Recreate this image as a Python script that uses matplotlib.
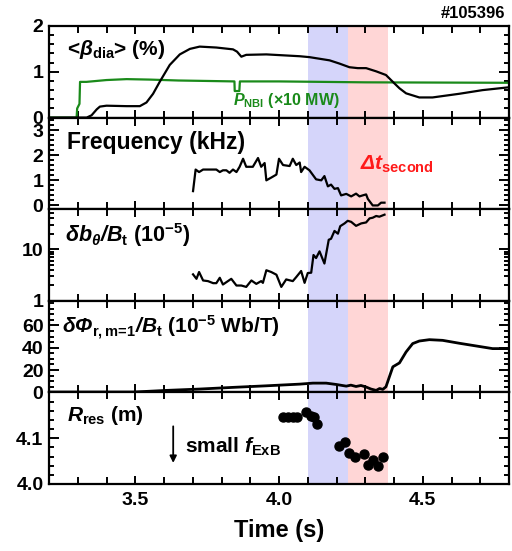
import matplotlib
matplotlib.use("Agg")
import matplotlib.pyplot as plt
from matplotlib.ticker import MultipleLocator, FixedLocator, NullFormatter, LogLocator

plt.rcParams['font.family'] = ['Liberation Sans', 'DejaVu Sans']
plt.rcParams['font.weight'] = 'bold'
plt.rcParams['mathtext.fontset'] = 'custom'
# 'rm' is italic so that capital Greek letters come out italic; upright parts use \mathsf
plt.rcParams['mathtext.rm'] = 'Liberation Sans:bold:italic'
plt.rcParams['mathtext.it'] = 'Liberation Sans:bold:italic'
plt.rcParams['mathtext.bf'] = 'Liberation Sans:bold'
plt.rcParams['mathtext.sf'] = 'Liberation Sans:bold'

# ---------------- data ----------------
beta_t = [3.20, 3.296, 3.331, 3.348, 3.366, 3.377, 3.400, 3.470, 3.516, 3.539, 3.562, 3.585,
          3.620, 3.655, 3.690, 3.724, 3.782, 3.840, 3.854, 3.869, 3.886, 3.956, 4.072, 4.106,
          4.176, 4.210, 4.245, 4.274, 4.303, 4.338, 4.372, 4.396, 4.419, 4.442, 4.488, 4.534,
          4.627, 4.708, 4.797]
beta_v = [0.0, 0.0, 0.0, 0.05, 0.18, 0.24, 0.26, 0.25, 0.25, 0.33, 0.52, 0.78,
          1.15, 1.38, 1.50, 1.55, 1.53, 1.49, 1.44, 1.33, 1.37, 1.38, 1.34, 1.32,
          1.25, 1.18, 1.10, 1.08, 1.08, 1.01, 0.93, 0.78, 0.64, 0.53, 0.44, 0.44,
          0.52, 0.60, 0.66]

pnbi_t = [3.20, 3.296, 3.298, 3.306, 3.308, 3.33, 3.40, 3.47, 3.55, 3.65, 3.75, 3.845,
          3.846, 3.862, 3.864, 4.00, 4.30, 4.80]
pnbi_v = [0.0, 0.0, 0.2, 0.3, 0.78, 0.78, 0.82, 0.84, 0.83, 0.81, 0.80, 0.79,
          0.58, 0.58, 0.79, 0.79, 0.77, 0.76]

freq_t = [3.701, 3.710, 3.722, 3.736, 3.782, 3.794, 3.805, 3.817, 3.828, 3.840, 3.852, 3.863,
          3.875, 3.886, 3.909, 3.927, 3.938, 3.950, 3.956, 3.973, 3.991, 4.000, 4.014, 4.037,
          4.048, 4.060, 4.072, 4.077, 4.089, 4.106, 4.129, 4.147, 4.158, 4.170, 4.181, 4.193,
          4.205, 4.216, 4.234, 4.251, 4.268, 4.280, 4.291, 4.303, 4.309, 4.326, 4.344, 4.355,
          4.367]
freq_v = [0.57, 1.43, 1.33, 1.43, 1.43, 1.33, 1.40, 1.40, 1.30, 1.43, 1.33, 1.54,
          1.86, 1.54, 1.54, 1.89, 1.54, 1.69, 1.00, 1.11, 1.23, 1.86, 1.61, 1.57,
          1.86, 1.61, 1.71, 1.33, 1.54, 1.40, 1.04, 1.00, 1.17, 0.76, 0.83, 0.66,
          0.69, 0.40, 0.46, 0.36, 0.47, 0.36, 0.40, 0.44, 0.26, 0.00, 0.00, 0.11,
          0.11]

db_t = [3.701, 3.713, 3.722, 3.736, 3.753, 3.771, 3.782, 3.794, 3.805, 3.834, 3.852, 3.869,
        3.886, 3.904, 3.921, 3.938, 3.944, 3.956, 3.973, 3.991, 4.008, 4.025, 4.048, 4.060,
        4.077, 4.089, 4.100, 4.112, 4.120, 4.129, 4.141, 4.158, 4.173, 4.181, 4.193, 4.205,
        4.213, 4.228, 4.239, 4.251, 4.268, 4.286, 4.303, 4.315, 4.326, 4.338, 4.349, 4.367]
db_v = [3.26, 2.67, 3.62, 2.48, 2.41, 2.20, 2.20, 2.80, 2.07, 2.67, 1.98, 1.98,
        1.86, 2.48, 2.13, 2.41, 2.23, 3.92, 3.62, 3.21, 1.86, 2.60, 2.41, 2.89,
        3.79, 2.23, 3.46, 3.51, 7.74, 6.76, 9.12, 5.29, 15.3, 16.0, 22.7, 20.1,
        28.1, 31.8, 35.7, 34.1, 28.5, 31.8, 33.2, 39.8, 41.0, 44.3, 42.9, 47.0]

phi_t = [3.20, 3.493, 3.609, 3.724, 3.840, 3.956, 4.072, 4.118, 4.164, 4.199, 4.234, 4.250,
         4.268, 4.285, 4.303, 4.320, 4.338, 4.350, 4.361, 4.372, 4.382, 4.396, 4.419, 4.442,
         4.465, 4.488, 4.523, 4.569, 4.627, 4.685, 4.743, 4.797]
phi_v = [0.3, 0.3, 1.8, 3.0, 4.5, 5.9, 7.4, 8.3, 8.3, 7.1, 5.6, 6.5,
         5.3, 6.2, 4.8, 3.0, 1.8, 3.5, 2.7, 5.0, 12.5, 22.9, 26.4, 36.2,
         43.7, 46.0, 47.2, 46.6, 44.0, 41.6, 39.2, 39.2]

rres_t = [4.014, 4.031, 4.048, 4.063, 4.095, 4.112, 4.121, 4.132, 4.210, 4.228, 4.243, 4.263,
          4.297, 4.309, 4.326, 4.344, 4.363]
rres_v = [4.147, 4.147, 4.147, 4.147, 4.158, 4.149, 4.146, 4.130, 4.084, 4.092, 4.068, 4.058,
          4.066, 4.042, 4.053, 4.040, 4.059]

blue_span = (4.10, 4.24)
red_span = (4.24, 4.38)
xticks = [3.5, 4.0, 4.5]
xticklabels = ['3.5', '4.0', '4.5']

# ---------------- figure ----------------
W, H = 512, 551
fig = plt.figure(figsize=(W / 100, H / 100), dpi=100)
left = 49 / W
width = 460 / W
top_px, bot_px = 26, 484
ph = (bot_px - top_px) / 5
axes = []
for i in range(5):
    b = 1 - (top_px + (i + 1) * ph) / H
    ax = fig.add_axes([left, b, width, ph / H])
    axes.append(ax)
for ax in axes[1:]:
    ax.sharex(axes[0])

BLUE = '#d5d5fa'
RED = '#ffd6d6'
tick_fs = 14
lab_fs = 15

for ax in axes:
    ax.axvspan(*blue_span, color=BLUE, lw=0, zorder=0)
    ax.axvspan(*red_span, color=RED, lw=0, zorder=0)
    for s in ax.spines.values():
        s.set_linewidth(1.6)
    ax.set_xlim(3.2, 4.8)
    ax.xaxis.set_major_locator(FixedLocator(xticks))
    ax.xaxis.set_minor_locator(MultipleLocator(0.1))
    ax.tick_params(axis='both', which='both', direction='in', top=True, right=True,
                   labelsize=tick_fs, width=1.4)
    ax.tick_params(axis='x', which='major', length=6)
    ax.tick_params(axis='x', which='minor', length=5)
    ax.tick_params(axis='y', which='major', length=7, pad=4)
    ax.tick_params(axis='y', which='minor', length=3.5)
    if ax is not axes[-1]:
        ax.tick_params(axis='x', labelbottom=False)

# Panel 1
ax = axes[0]
ax.plot(pnbi_t, pnbi_v, color='#1a8a1a', lw=1.6, zorder=2)
ax.plot(beta_t, beta_v, color='black', lw=1.6, zorder=3)
ax.set_ylim(0, 2)
ax.yaxis.set_major_locator(FixedLocator([0, 1, 2]))
ax.yaxis.set_minor_locator(MultipleLocator(0.2))
ax.text(0.039, 0.74, r'<$\beta_{\mathsf{dia}}$> (%)', transform=ax.transAxes,
        fontsize=lab_fs, fontweight='bold', va='center', ha='left')
ax.text(0.40, 0.19, r'$P_{\mathsf{NBI}}$ (×10 MW)', transform=ax.transAxes,
        fontsize=11.5, fontweight='bold', color='#1a8a1a', va='center', ha='left')

# Panel 2
ax = axes[1]
ax.plot(freq_t, freq_v, color='black', lw=1.6)
ax.set_ylim(-0.15, 3.5)
ax.yaxis.set_major_locator(FixedLocator([0, 1, 2, 3]))
ax.yaxis.set_minor_locator(MultipleLocator(0.2))
ax.text(0.039, 0.73, 'Frequency (kHz)', transform=ax.transAxes,
        fontsize=16.5, fontweight='bold', va='center', ha='left')
ax.text(0.675, 0.49, r'$\Delta t_{\mathsf{second}}$', transform=ax.transAxes,
        fontsize=lab_fs, fontweight='bold', color='#ff1a1a', va='center', ha='left')

# Panel 3
ax = axes[2]
ax.plot(db_t, db_v, color='black', lw=1.6)
ax.set_yscale('log')
ax.set_ylim(1, 60)
ax.yaxis.set_major_locator(FixedLocator([1, 10]))
ax.yaxis.set_minor_locator(LogLocator(base=10, subs=range(2, 10)))
ax.yaxis.set_minor_formatter(NullFormatter())
ax.set_yticklabels(['1', '10'], fontweight='bold')
ax.text(0.035, 0.72, r'$\delta b_{\theta}/B_{\mathsf{t}}$ (10$^{\mathsf{-5}}$)', transform=ax.transAxes,
        fontsize=15.5, fontweight='bold', va='center', ha='left')

# Panel 4
ax = axes[3]
ax.plot(phi_t, phi_v, color='black', lw=2.0)
ax.set_ylim(0, 82)
ax.yaxis.set_major_locator(FixedLocator([0, 20, 40, 60]))
ax.yaxis.set_minor_locator(MultipleLocator(5))
ax.text(0.028, 0.70,
        r'$\delta\Phi_{\mathsf{r,m}\!\mathsf{=}\!\mathsf{1}}/B_{\mathsf{t}}$ (10$^{\mathsf{-5}}$ Wb/T)',
        transform=ax.transAxes, fontsize=lab_fs, fontweight='bold', va='center', ha='left')

# Panel 5
ax = axes[4]
ax.plot(rres_t, rres_v, 'o', color='black', ms=6.5, zorder=3)
ax.set_ylim(4.0, 4.2)
ax.yaxis.set_major_locator(FixedLocator([4.0, 4.1]))
ax.yaxis.set_minor_locator(MultipleLocator(0.02))
ax.set_yticklabels(['4.0', '4.1'], fontweight='bold')
ax.set_xticklabels(xticklabels, fontweight='bold')
ax.tick_params(axis='x', which='major', pad=6)
ax.text(0.039, 0.75, r'$R_{\mathsf{res}}$ (m)', transform=ax.transAxes,
        fontsize=lab_fs, fontweight='bold', va='center', ha='left')
ax.annotate('', xy=(3.632, 4.040), xytext=(3.632, 4.132),
            arrowprops=dict(arrowstyle='-|>', color='black', lw=1.3, mutation_scale=10))
ax.text(3.672, 4.082, r'small $f_{\mathsf{ExB}}$', fontsize=lab_fs, fontweight='bold',
        va='center', ha='left')

fig.text(279 / W, 1 - 530 / H, 'Time (s)', ha='center', va='center', fontsize=17, fontweight='bold')
fig.text(505 / W, 1 - 13 / H, '#105396', ha='right', va='center', fontsize=12, fontweight='bold')

fig.savefig('out.png', dpi=100)
